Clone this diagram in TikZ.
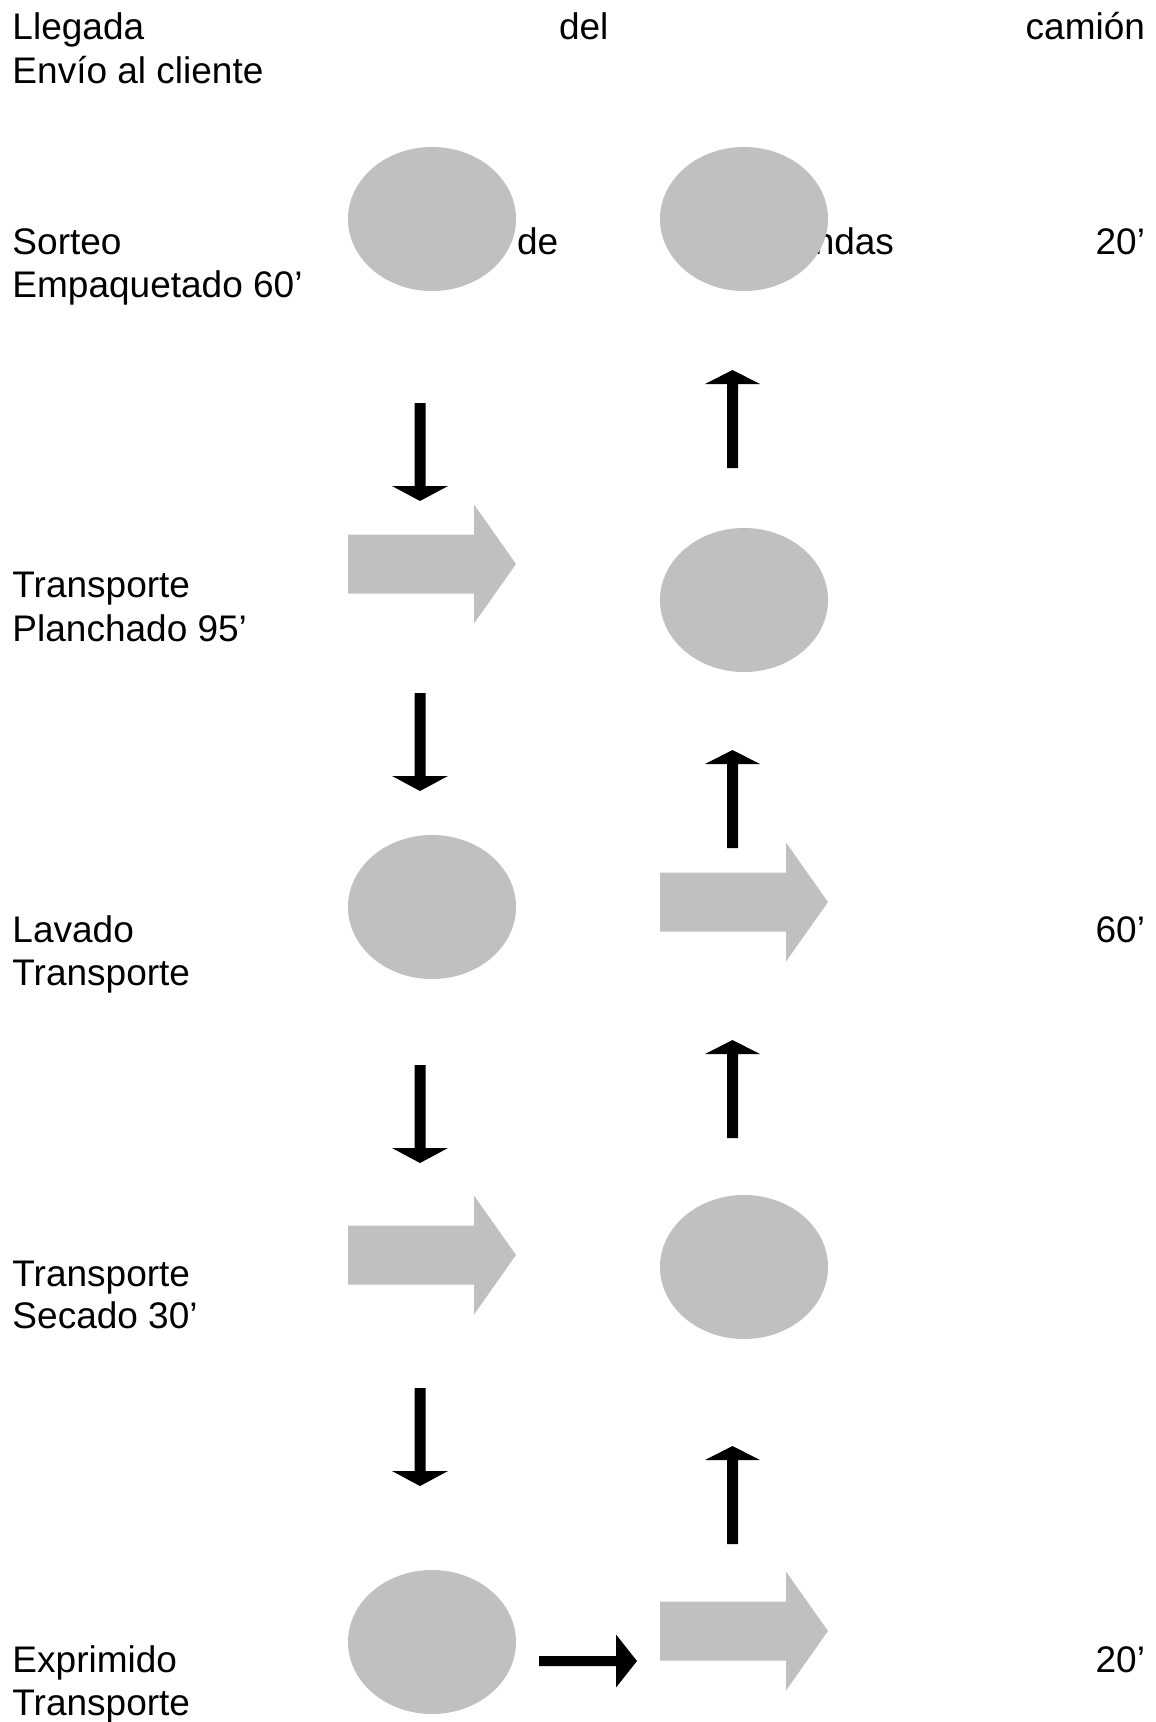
\documentclass[tikz,border=0pt]{standalone}
\usepackage{fontspec}
\setmainfont{Liberation Sans}
\usetikzlibrary{shapes.geometric}
\definecolor{shapegray}{RGB}{192,192,192}
\tikzset{
  txt/.style={inner sep=0pt, outer sep=0pt, font=\fontsize{37}{43}\selectfont},
  lt/.style={txt, anchor=base west},
  rt/.style={txt, anchor=base east},
  oval/.style={ellipse, fill=shapegray, draw=none, minimum width=168pt, minimum height=144pt, inner sep=0pt, outer sep=0pt},
  blockarrow/.pic={\fill[shapegray] (0,-29.5) -- (126,-29.5) -- (126,-59.5) -- (168,0) -- (126,59.5) -- (126,29.5) -- (0,29.5) -- cycle;},
  downarr/.pic={\fill[black] (-5.5,0) -- (5.5,0) -- (5.5,83) -- (28,83) -- (0,98) -- (-28,83) -- (-5.5,83) -- cycle;},
  uparr/.pic={\fill[black] (0,0) -- (27.5,14) -- (5.5,14) -- (5.5,98) -- (-5.5,98) -- (-5.5,14) -- (-27.5,14) -- cycle;},
  rightarr/.pic={\fill[black] (0,-5) -- (77,-5) -- (77,-26.5) -- (98,0) -- (77,26.5) -- (77,5) -- (0,5) -- cycle;}
}
\begin{document}
\begin{tikzpicture}[x=1pt,y=-1pt]
\useasboundingbox (0,0) rectangle (1156,1722);
% texts
\node[lt] (t1a) at (12.5,39) {Llegada};
\node[lt] (t1b) at (559,39) {del};
\node[rt] (t1c) at (1145,39) {camión};
\node[lt] (t1d) at (12.5,83) {Envío al cliente};
\node[lt] (t2a) at (12.5,254) {Sorteo};
\node[lt] (t2b) at (517,254) {de};
\node[rt] (t2c) at (894,254) {Prendas};
\node[rt] (t2d) at (1145,254) {20’};
\node[lt] (t2e) at (12.5,297) {Empaquetado 60’};
\node[lt] (t3a) at (12.5,597) {Transporte};
\node[lt] (t3b) at (12.5,641) {Planchado 95’};
\node[lt] (t4a) at (12.5,942) {Lavado};
\node[rt] (t4b) at (1145,942) {60’};
\node[lt] (t4c) at (12.5,985) {Transporte};
\node[lt] (t5a) at (12.5,1286) {Transporte};
\node[lt] (t5b) at (12.5,1328) {Secado 30’};
\node[lt] (t6a) at (12.5,1672) {Exprimido};
\node[rt] (t6b) at (1145,1672) {20’};
\node[lt] (t6c) at (12.5,1715) {Transporte};
% ellipses
\node[oval] (e1) at (432,219) {};
\node[oval] (e2) at (744,219) {};
\node[oval] (e3) at (744,600) {};
\node[oval] (e4) at (432,907) {};
\node[oval] (e5) at (744,1267) {};
\node[oval] (e6) at (432,1642) {};
% block arrows
\pic at (348,564) {blockarrow};
\pic at (660,902) {blockarrow};
\pic at (348,1255) {blockarrow};
\pic at (660,1631) {blockarrow};
% black arrows
\pic at (420,403) {downarr};
\pic at (420,693) {downarr};
\pic at (420,1065) {downarr};
\pic at (420,1388) {downarr};
\pic at (732.5,370) {uparr};
\pic at (732.5,750) {uparr};
\pic at (732.5,1040) {uparr};
\pic at (732.5,1446) {uparr};
\pic at (539,1661) {rightarr};
\end{tikzpicture}
\end{document}
